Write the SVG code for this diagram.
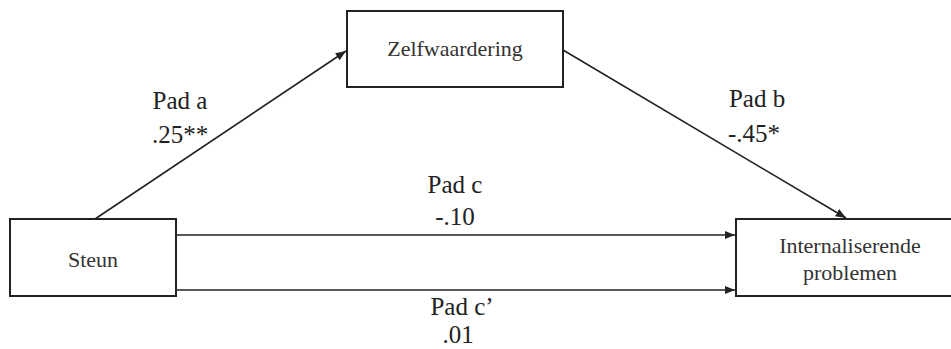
<svg xmlns="http://www.w3.org/2000/svg" width="951" height="349" viewBox="0 0 951 349">
<style>
.box{fill:#fff;stroke:#222;stroke-width:2}
.bt{font-family:"Liberation Serif",serif;font-size:22px;fill:#333;text-anchor:middle}
.lb{font-family:"Liberation Serif",serif;font-size:25px;fill:#222;text-anchor:middle}
.edge{stroke:#222;stroke-width:1.6;fill:none;marker-end:url(#ah)}
</style>
<defs>
<marker id="ah" viewBox="0 0 10 10" refX="10" refY="5" markerWidth="6.5" markerHeight="6.5" markerUnits="strokeWidth" orient="auto">
<path d="M0,1 L10,5 L0,9 Z" fill="#222"/>
</marker>
</defs>
<rect width="951" height="349" fill="#fff"/>
<g id="connectors">
<line class="edge" x1="95" y1="219" x2="346" y2="51"/>
<line class="edge" x1="563" y1="50" x2="846" y2="218"/>
<line class="edge" x1="176" y1="235" x2="735" y2="235"/>
<line class="edge" x1="176" y1="290" x2="735" y2="290"/>
</g>
<g id="steun">
<rect class="box" x="10" y="219" width="166" height="77"/>
<text class="bt" x="93" y="267">Steun</text>
</g>
<g id="zelfwaardering">
<rect class="box" x="347" y="11" width="216" height="76"/>
<text class="bt" x="455" y="56">Zelfwaardering</text>
</g>
<g id="internaliserende">
<rect class="box" x="736" y="219" width="228" height="77"/>
<text class="bt" x="850" y="253">Internaliserende</text>
<text class="bt" x="850" y="280">problemen</text>
</g>
<g id="labels">
<text class="lb" x="180" y="109">Pad a</text>
<text class="lb" x="180" y="143">.25**</text>
<text class="lb" x="757" y="107">Pad b</text>
<text class="lb" x="754" y="142">-.45*</text>
<text class="lb" x="455" y="193">Pad c</text>
<text class="lb" x="455" y="225">-.10</text>
<text class="lb" x="462" y="315">Pad c’</text>
<text class="lb" x="458" y="343">.01</text>
</g>
</svg>
